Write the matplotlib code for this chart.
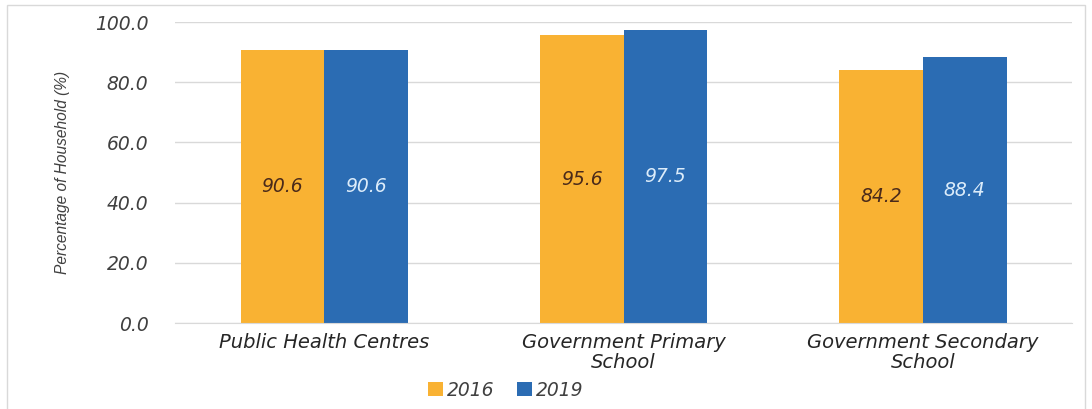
import matplotlib.pyplot as plt
import matplotlib.patches as mpatches
import numpy as np

categories = ["Public Health Centres", "Government Primary\nSchool", "Government Secondary\nSchool"]
years = ["2016", "2019"]
values_2016 = [90.6, 95.6, 84.2]
values_2019 = [90.6, 97.5, 88.4]
yticks = [0, 20, 40, 60, 80, 100]

orange = "#F9B233"
blue = "#2B6CB3"
text_font = dict(family="DejaVu Sans", style="oblique")

fig = plt.figure(figsize=(10.92, 4.09), dpi=100)
ax = fig.add_axes([0.160, 0.210, 0.822, 0.736])

x = np.arange(len(categories))
w = 0.28
b1 = ax.bar(x - w / 2, values_2016, w, color=orange, label=years[0])
b2 = ax.bar(x + w / 2, values_2019, w, color=blue, label=years[1])

for bars, vals, col in [(b1, values_2016, "#4a2a1a"), (b2, values_2019, "#dcecfa")]:
    for r, v in zip(bars, vals):
        ax.text(r.get_x() + r.get_width() / 2, v / 2, f"{v:.1f}", ha="center",
                va="center", color=col, fontsize=13.5, **text_font)

ax.set_xlim(-0.5, len(categories) - 0.5)
ax.set_ylim(0, 100)
ax.set_yticks(yticks)
ax.set_yticklabels([f"{t:.1f}" for t in yticks], color="#404040", fontsize=13.5, **text_font)
ax.set_xticks(x)
ax.set_xticklabels(categories, color="#262626", fontsize=14, linespacing=1.05, **text_font)
ax.tick_params(length=0, pad=19)
ax.tick_params(axis="x", pad=7)
ax.grid(axis="y", color="#d9d9d9", linewidth=1)
ax.set_axisbelow(True)
for s in ["top", "right", "left"]:
    ax.spines[s].set_visible(False)
ax.spines["bottom"].set_color("#d9d9d9")
ax.set_ylabel("Percentage of Household (%)", family="Liberation Sans", style="italic",
              fontsize=11.2, color="#404040", labelpad=18)

leg = fig.legend(loc="center", bbox_to_anchor=(0.463, 0.046), ncol=2, frameon=False,
                 prop=dict(size=13.5, **text_font), handlelength=0.8, handleheight=0.8,
                 handletextpad=0.2, columnspacing=1.2)
for t in leg.get_texts():
    t.set_color("#404040")

# outer chart border
fig.patches.append(mpatches.Rectangle((7 / 1092, -0.05), 1078 / 1092, 1 - 5 / 409 + 0.05,
                                      transform=fig.transFigure, fill=False,
                                      edgecolor="#d9d9d9", linewidth=1))

fig.savefig("out.png", dpi=100)
